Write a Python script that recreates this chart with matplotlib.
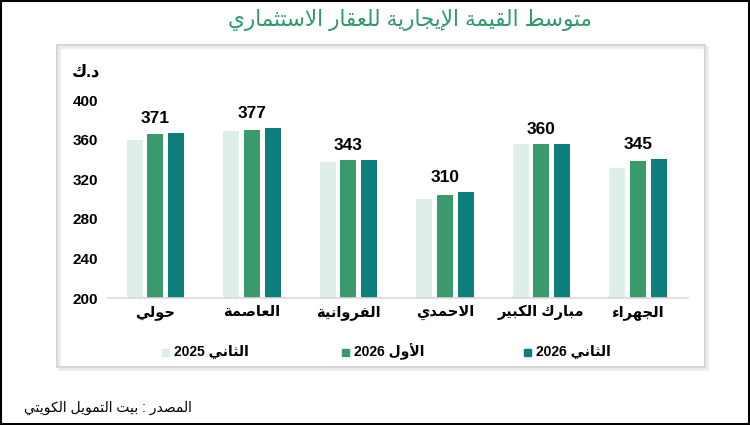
import matplotlib
matplotlib.use('Agg')
import matplotlib.pyplot as plt
from matplotlib.patches import Rectangle
import numpy as np

# data
areas = ['حولي', 'العاصمة', 'الفروانية', 'الاحمدي', 'مبارك الكبير', 'الجهراء']
q2_2025 = [360, 369, 337, 300, 356, 331]
q1_2026 = [366, 370, 339, 304, 356, 338]
q2_2026 = [367, 372, 339, 307, 356, 340]
top_labels = [371, 377, 343, 310, 360, 345]
series_names = ['الثاني 2025', 'الأول 2026', 'الثاني 2026']
colors = ['#deeee8', '#3a9a6b', '#0e7e7d']
y_ticks = [200, 240, 280, 320, 360, 400]

title = 'متوسط القيمة الإيجارية للعقار الاستثماري'
unit = 'د.ك'
source = 'المصدر : بيت التمويل الكويتي'

# --- tiny arabic shaper (matplotlib has no shaping / bidi) ---
AR_LETTERS = 'ءآأؤإئابةتثجحخدذرزسشصضطظعغفقكلمنهوىي'
AR_NFORMS = [1, 2, 2, 2, 2, 4, 2, 4, 2, 4, 4, 4, 4, 4, 2, 2, 2, 2,
             4, 4, 4, 4, 4, 4, 4, 4, 4, 4, 4, 4, 4, 4, 4, 2, 2, 4]
forms = {}
nforms = {}
cp = 0xFE80
for ch, n in zip(AR_LETTERS, AR_NFORMS):
    f = [chr(cp + i) for i in range(n)]
    if n == 1:
        f = f * 4
    elif n == 2:
        f = [f[0], f[1], f[0], f[1]]
    forms[ch] = f
    nforms[ch] = n
    cp += n
LAM_ALEF = {'آ': ('\uFEF5', '\uFEF6'), 'أ': ('\uFEF7', '\uFEF8'),
            'إ': ('\uFEF9', '\uFEFA'), 'ا': ('\uFEFB', '\uFEFC')}


def shape_word(w):
    seq = []
    i = 0
    while i < len(w):
        if w[i] == 'ل' and i + 1 < len(w) and w[i + 1] in LAM_ALEF:
            seq.append(('LA', w[i + 1]))
            i += 2
        else:
            seq.append((w[i], None))
            i += 1

    def dual(it):
        return it[0] in nforms and nforms[it[0]] == 4

    def joining(it):
        return it[0] == 'LA' or (it[0] in nforms and nforms[it[0]] > 1)

    out = []
    for k, it in enumerate(seq):
        prev = seq[k - 1] if k > 0 else None
        nxt = seq[k + 1] if k + 1 < len(seq) else None
        jp = prev is not None and dual(prev) and joining(it)
        jn = nxt is not None and dual(it) and joining(nxt)
        if it[0] == 'LA':
            out.append(LAM_ALEF[it[1]][1 if jp else 0])
        elif it[0] in forms:
            out.append(forms[it[0]][(1 if jp else 0) + (2 if jn else 0)])
        else:
            out.append(it[0])
    return ''.join(out)


def ar(s):
    toks = []
    for t in s.split(' '):
        if any(c in forms for c in t):
            toks.append(shape_word(t)[::-1])
        else:
            toks.append(t)
    return ' '.join(toks[::-1])


plt.rcParams['font.family'] = ['Liberation Sans', 'DejaVu Sans']

W, H = 750, 425
fig = plt.figure(figsize=(7.5, 4.25), dpi=100)


def fx(px):
    return px / W


def fy(py):
    return 1 - py / H


# outer frame and inner panel (with a faint shadow)
fig.patches.append(Rectangle((0.001, 0.002), 0.997, 0.995, transform=fig.transFigure,
                             fill=False, edgecolor='black', lw=1.5))
fig.patches.append(Rectangle((fx(59), fy(369)), fx(705) - fx(57), fy(45) - fy(367),
                             transform=fig.transFigure, fill=False,
                             edgecolor='#ececec', lw=2))
fig.patches.append(Rectangle((fx(57), fy(367)), fx(705) - fx(57), fy(45) - fy(367),
                             transform=fig.transFigure, fill=False,
                             edgecolor='#d6d6d6', lw=1.5))

fig.text(fx(410), fy(20), ar(title), color='#2f9a68', fontsize=15.5,
         ha='center', va='center')

ax = fig.add_axes([fx(108), fy(298), fx(688) - fx(108), fy(100) - fy(298)])
x = np.arange(len(areas))
w = 0.165
off = 0.215
for i, vals in enumerate([q2_2025, q1_2026, q2_2026]):
    ax.bar(x + (i - 1) * off, [v - 200 for v in vals], w, bottom=200,
           color=colors[i], zorder=2)

tops = np.max([q2_2025, q1_2026, q2_2026], axis=0)
for xi, t, lab in zip(x, tops, top_labels):
    ax.annotate(str(lab), (xi, t), xytext=(0, 5), textcoords='offset points',
                ha='center', va='bottom', fontsize=12.5, fontweight='bold')

ax.set_ylim(200, 400)
ax.set_xlim(-0.49, 5.52)
ax.set_yticks(y_ticks)
ax.set_yticklabels([str(v) for v in y_ticks], fontsize=11, fontweight='bold')
ax.set_xticks(x)
ax.set_xticklabels([ar(a) for a in areas], fontsize=10.5, fontweight='bold')
ax.tick_params(axis='both', length=0)
ax.tick_params(axis='y', pad=7)
ax.tick_params(axis='x', pad=5)
for s in ['top', 'right', 'left']:
    ax.spines[s].set_visible(False)
ax.spines['bottom'].set_color('#d9d9d9')
ax.spines['bottom'].set_linewidth(1.2)

fig.text(fx(86), fy(72), ar(unit), fontsize=12, fontweight='bold',
         ha='center', va='center')

# legend
leg_x = [165, 345, 527]
for lx, name, c in zip(leg_x, series_names, colors):
    fig.patches.append(Rectangle((fx(lx - 3.5), fy(355.5)), fx(7), fy(0) - fy(7),
                                 transform=fig.transFigure, color=c))
    fig.text(fx(lx + 9), fy(352), ar(name), fontsize=10, fontweight='bold',
             ha='left', va='center')

fig.text(fx(24), fy(408), ar(source), fontsize=10, ha='left', va='center')

fig.savefig('out.png', dpi=100)
